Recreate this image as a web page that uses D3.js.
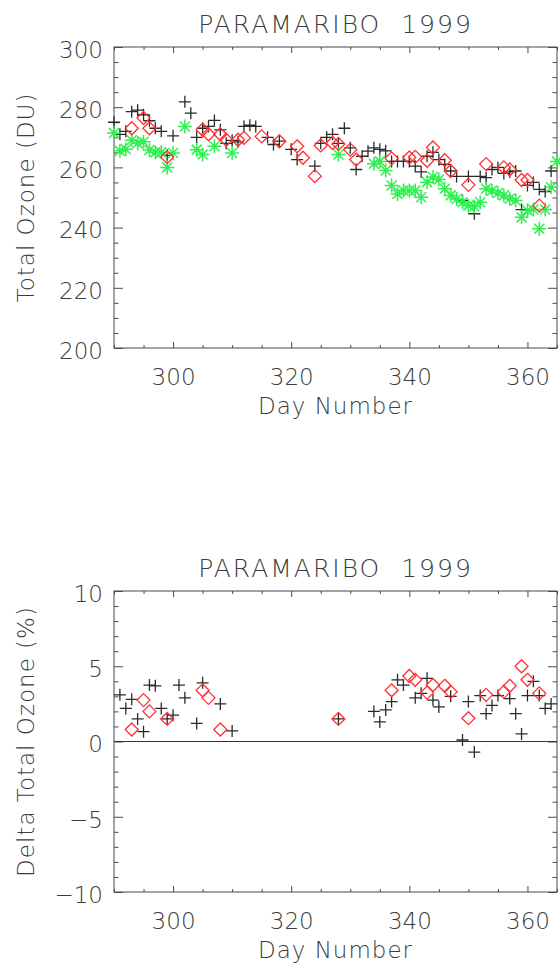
<!DOCTYPE html>
<html>
<head>
<meta charset="utf-8">
<script src="https://cdn.jsdelivr.net/npm/d3@7"></script>
<style>
  body { margin: 0; background: #fff; }
  text { font-family: "DejaVu Sans", sans-serif; font-weight: 200; fill: #3c3c3c; }
  .tick text { font-size: 23px; }
  .axis-title { font-size: 23px; letter-spacing: 1px; }
  .chart-title { font-size: 25px; letter-spacing: 2px; white-space: pre; }
</style>
</head>
<body>
<div id="chart"></div>
<script>
// ---- top panel: total ozone (DU) ----
const blackDays = [290,291,292,293,294,295,296,297,298,299,300,302,303,304,305,306,307,308,309,310,311,312,313,314,316,317,318,320,321,324,325,326,327,328,329,330,331,332,333,334,335,336,337,338,339,340,341,342,343,344,345,346,347,348,349,350,351,352,353,354,355,356,357,358,359,360,361,362,363,364];
const blackOzone = [275,271,272,278.5,279,277.5,275.5,273,272,264,270.5,281.8,278,270,273,273.6,275.6,272.5,268,269,268.5,273.6,274,273.6,270,267.6,268.7,266,262.6,260.4,268,270,271,268,273,266.5,259.3,263.7,265.4,266.5,266,265.5,262,262,262,262,260.4,258.5,263.7,265,262.6,261,258.8,257,249,257,244.6,257,256.6,259.3,260,258,258.5,258.8,246,254,255,252.7,252,258.8];

const greenDays = [290,291,292,293,294,295,296,297,298,299,300,302,304,305,307,310,328,334,335,336,337,338,339,340,341,342,343,344,345,346,347,348,349,350,351,352,353,354,355,356,357,358,359,360,361,362,363,364,365];
const greenOzone = [271.4,265.5,266,269,268,268.5,265.8,265,265,260,264.8,273.6,265.9,264.3,267,264.8,264.3,261.2,262,259,254,251.2,252.3,252.3,252.3,250.1,255.1,256.8,256,252.9,250.7,249.5,248.4,247.3,247,248.4,252.9,252.3,251.5,250.7,249.6,249,243.4,245.7,246,239.6,246,253.4,262];

const redDays = [293,295,296,299,305,306,308,309,311,312,315,318,321,322,324,325,327,328,330,331,337,340,341,343,344,346,347,350,353,356,357,359,360,362];
const redOzone = [273,276.4,273,263.4,272.5,271,271,269.2,269.2,269.8,270.3,268.7,267,263.2,257.1,267.3,268.1,267.8,265.9,262.6,263,263.3,263.5,262.2,266.6,262.4,258.8,254.2,261.1,260,259.3,255.8,255.8,247.3];

// ---- bottom panel: delta total ozone (%) ----
const blackDeltaDays = [291,292,293,294,295,296,297,298,299,300,301,302,304,305,308,310,328,334,335,336,337,338,339,341,342,343,344,345,347,349,350,351,352,353,354,355,357,358,359,360,361,362,363,364];
const blackDelta = [3.1,2.2,2.8,1.5,0.65,3.75,3.7,2.2,1.5,1.75,3.75,2.9,1.2,3.9,2.5,0.7,1.5,2.0,1.3,2.1,2.65,4.1,3.75,2.9,3.2,4.2,2.75,2.3,3.0,0.1,2.65,-0.7,3.05,1.85,2.4,3.05,2.85,1.85,0.5,3.05,4.0,3.05,2.2,2.5];

const redDeltaDays = [293,295,296,299,305,306,308,328,337,340,341,343,344,346,347,350,353,356,357,359,360,362];
const redDelta = [0.8,2.75,2.0,1.5,3.4,2.9,0.8,1.5,3.4,4.35,4.1,3.25,3.75,3.7,3.3,1.55,3.1,3.3,3.7,5.0,4.1,3.2];

const dayMajor = [300,320,340,360];
const dayMinor = [290,295,305,310,315,325,330,335,345,350,355,365];
const title = "PARAMARIBO  1999";

const width = 560, height = 969;
const left = 114, right = 557, panelH = 301;

const svg = d3.select("#chart").append("svg")
    .attr("width", width)
    .attr("height", height);

const x = d3.scaleLinear().domain([290, 365]).range([left, right]);

const shapes = {
    plus: "M-6,0H6M0,-6V6",
    diamond: "M0,-6.5L6.5,0L0,6.5L-6.5,0Z",
    star: "M-7,0H7M0,-7V7M-5,-5L5,5M-5,5L5,-5"
};

function drawPanel(top, yDomain, yMajor, yMinor, yTitle, series, zero) {
    const bottom = top + panelH;
    const y = d3.scaleLinear().domain(yDomain).range([bottom, top]);
    const g = svg.append("g");

    function axis(gen, pos, values, size, fmt, pad) {
        const a = gen.tickValues(values).tickSize(size).tickSizeOuter(0);
        if (fmt === "") a.tickFormat("");
        if (pad) a.tickPadding(pad);
        const ag = g.append("g")
            .attr("transform", pos)
            .attr("color", "#4a4a4a")
            .call(a);
        ag.select(".domain").remove();
        ag.selectAll("line").attr("stroke-width", 1);
        return ag;
    }

    // x axes (bottom labelled, top mirrored), ticks pointing inward
    axis(d3.axisBottom(x), `translate(0,${bottom})`, dayMajor, -6, null, 21);
    axis(d3.axisBottom(x), `translate(0,${bottom})`, dayMinor, -3, "");
    axis(d3.axisTop(x), `translate(0,${top})`, dayMajor, -6, "");
    axis(d3.axisTop(x), `translate(0,${top})`, dayMinor, -3, "");

    // y axes
    axis(d3.axisLeft(y), `translate(${left},0)`, yMajor, -9, null, 11)
        .selectAll("text").attr("dy", "0.45em");
    axis(d3.axisLeft(y), `translate(${left},0)`, yMinor, -4.5, "");
    axis(d3.axisRight(y), `translate(${right},0)`, yMajor, -9, "");
    axis(d3.axisRight(y), `translate(${right},0)`, yMinor, -4.5, "");

    g.append("rect")
        .attr("x", left).attr("y", top)
        .attr("width", right - left).attr("height", panelH)
        .attr("fill", "none").attr("stroke", "#4a4a4a").attr("stroke-width", 1);

    if (zero) {
        g.append("line")
            .attr("x1", left).attr("x2", right)
            .attr("y1", y(0)).attr("y2", y(0))
            .attr("stroke", "#333").attr("stroke-width", 1.2);
    }

    series.forEach(s => {
        g.append("g").selectAll("path")
            .data(s.days.map((d, i) => [d, s.vals[i]]))
            .join("path")
            .attr("transform", d => `translate(${x(d[0])},${y(d[1])})`)
            .attr("d", shapes[s.shape])
            .attr("fill", "none")
            .attr("stroke", s.color)
            .attr("stroke-width", s.sw);
    });

    g.append("text")
        .attr("class", "chart-title")
        .attr("x", (left + right) / 2)
        .attr("y", top - 14)
        .attr("text-anchor", "middle")
        .text(title);

    g.append("text")
        .attr("class", "axis-title")
        .attr("x", (left + right) / 2)
        .attr("y", bottom + 66)
        .attr("text-anchor", "middle")
        .text("Day Number");

    g.append("text")
        .attr("class", "axis-title")
        .attr("transform", `translate(34,${(top + bottom) / 2}) rotate(-90)`)
        .attr("text-anchor", "middle")
        .text(yTitle);
}

drawPanel(47, [200, 300], d3.range(200, 301, 20),
    d3.range(200, 301, 5).filter(v => v % 20 !== 0),
    "Total Ozone (DU)",
    [
        { days: blackDays, vals: blackOzone, shape: "plus", color: "#2a2a2a", sw: 1.3 },
        { days: greenDays, vals: greenOzone, shape: "star", color: "#2ef04f", sw: 1.5 },
        { days: redDays, vals: redOzone, shape: "diamond", color: "#ff3030", sw: 1.3 }
    ], false);

drawPanel(591, [-10, 10], d3.range(-10, 11, 5),
    d3.range(-10, 11, 1).filter(v => v % 5 !== 0),
    "Delta Total Ozone (%)",
    [
        { days: blackDeltaDays, vals: blackDelta, shape: "plus", color: "#2a2a2a", sw: 1.3 },
        { days: redDeltaDays, vals: redDelta, shape: "diamond", color: "#ff3030", sw: 1.3 }
    ], true);
</script>
</body>
</html>
